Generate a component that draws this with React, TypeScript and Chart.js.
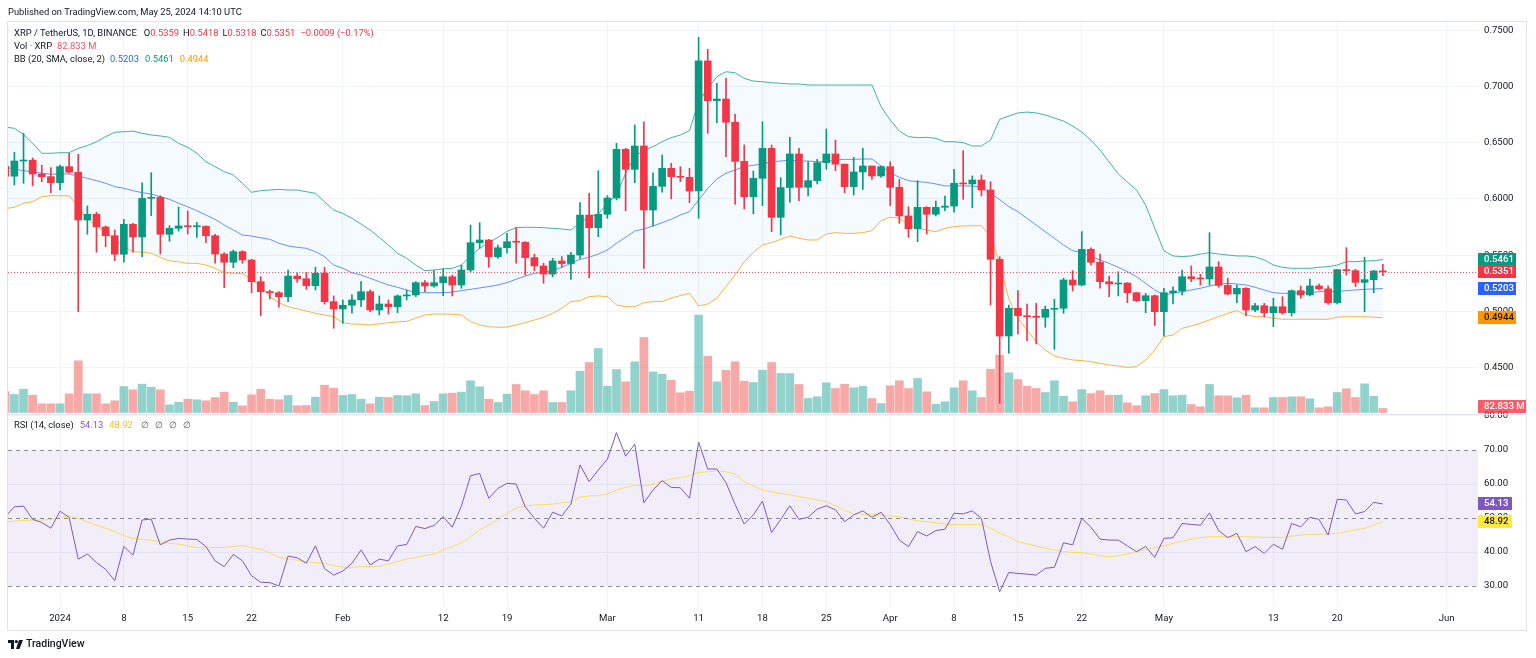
import React, { useEffect, useRef } from "react";
import { Chart, registerables } from "chart.js";

Chart.register(...registerables);

// ---------------- DATA ----------------
// daily candles, first = 2023-12-26, last = 2024-05-25
const firstDate = "2023-12-26";

const opens = [
  0.6290,0.6203,0.6338,0.6345,0.6222,0.6199,0.6145,0.6288,0.6238,0.5813,
  0.5864,0.5751,0.5673,0.5508,0.5775,0.5662,0.6006,0.6015,0.5686,0.5739,
  0.5760,0.5753,0.5757,0.5673,0.5510,0.5437,0.5531,0.5457,0.5264,0.5175,
  0.5166,0.5130,0.5314,0.5290,0.5228,0.5339,0.5086,0.5021,0.5054,0.5101,
  0.5175,0.5012,0.5065,0.5041,0.5137,0.5146,0.5255,0.5226,0.5255,0.5308,
  0.5234,0.5368,0.5611,0.5635,0.5486,0.5566,0.5620,0.5615,0.5478,0.5404,
  0.5332,0.5448,0.5425,0.5501,0.5857,0.5744,0.5864,0.6009,0.6442,0.6264,
  0.6472,0.5902,0.6113,0.6273,0.6199,0.6193,0.6071,0.7229,0.6875,0.6890,
  0.6683,0.6335,0.6020,0.6184,0.6451,0.5837,0.6102,0.6401,0.6104,0.6163,
  0.6323,0.6401,0.6310,0.6110,0.6241,0.6294,0.6205,0.6288,0.6104,0.5849,
  0.5735,0.5926,0.5864,0.5926,0.5937,0.6140,0.6134,0.6169,0.6080,0.5463,
  0.4780,0.5027,0.4961,0.4952,0.4947,0.5018,0.5027,0.5279,0.5234,0.5552,
  0.5436,0.5264,0.5243,0.5252,0.5166,0.5095,0.5139,0.4997,0.5166,0.5181,
  0.5308,0.5290,0.5288,0.5395,0.5231,0.5154,0.5205,0.5012,0.5050,0.4988,
  0.5041,0.4988,0.5184,0.5146,0.5226,0.5200,0.5077,0.5371,0.5362,0.5258,
  0.5282,0.5359,
];
const highs = [
  0.6330,0.6416,0.6585,0.6365,0.6300,0.6279,0.6303,0.6407,0.6398,0.5938,
  0.5882,0.5760,0.5724,0.5819,0.5784,0.6145,0.6234,0.6029,0.5762,0.5929,
  0.5893,0.5793,0.5762,0.5686,0.5522,0.5546,0.5540,0.5463,0.5308,0.5190,
  0.5175,0.5368,0.5339,0.5344,0.5392,0.5392,0.5137,0.5101,0.5146,0.5264,
  0.5190,0.5137,0.5101,0.5146,0.5190,0.5264,0.5273,0.5362,0.5377,0.5323,
  0.5412,0.5768,0.5789,0.5641,0.5590,0.5695,0.5745,0.5620,0.5508,0.5428,
  0.5472,0.5488,0.5525,0.5967,0.6051,0.6252,0.6030,0.6496,0.6451,0.6659,
  0.6688,0.6234,0.6392,0.6318,0.6288,0.6274,0.7439,0.7333,0.7030,0.7074,
  0.6754,0.6481,0.6249,0.6688,0.6481,0.6190,0.6549,0.6451,0.6332,0.6353,
  0.6623,0.6525,0.6312,0.6371,0.6451,0.6294,0.6294,0.6332,0.6175,0.5931,
  0.6163,0.5931,0.5982,0.6027,0.6264,0.6430,0.6205,0.6214,0.6154,0.5486,
  0.5056,0.5184,0.5065,0.5071,0.5047,0.5107,0.5294,0.5362,0.5709,0.5566,
  0.5510,0.5314,0.5353,0.5255,0.5166,0.5160,0.5146,0.5205,0.5219,0.5368,
  0.5404,0.5330,0.5700,0.5442,0.5294,0.5234,0.5211,0.5071,0.5071,0.5116,
  0.5130,0.5190,0.5226,0.5288,0.5243,0.5226,0.5374,0.5567,0.5374,0.5481,
  0.5365,0.5418,
];
const lows = [
  0.6150,0.6125,0.6140,0.6116,0.6154,0.6056,0.6080,0.6229,0.4997,0.5686,
  0.5526,0.5575,0.5451,0.5437,0.5526,0.5486,0.5851,0.5510,0.5623,0.5715,
  0.5688,0.5659,0.5611,0.5428,0.5210,0.5388,0.5428,0.5166,0.4961,0.5110,
  0.5036,0.5086,0.5258,0.5196,0.5190,0.5065,0.4849,0.4893,0.4983,0.5041,
  0.4997,0.4967,0.4976,0.4988,0.5101,0.5131,0.5175,0.5214,0.5139,0.5137,
  0.5205,0.5353,0.5561,0.5392,0.5472,0.5517,0.5428,0.5323,0.5362,0.5250,
  0.5308,0.5392,0.5285,0.5472,0.5300,0.5664,0.5828,0.5991,0.5896,0.6145,
  0.5383,0.5760,0.6060,0.6000,0.6154,0.5967,0.5828,0.6585,0.6679,0.6377,
  0.5955,0.5911,0.5867,0.5940,0.5709,0.5680,0.5971,0.5985,0.6027,0.6134,
  0.6264,0.6252,0.6056,0.6036,0.6086,0.6175,0.6193,0.5940,0.5783,0.5659,
  0.5620,0.5688,0.5849,0.5896,0.5882,0.5997,0.5922,0.6027,0.5056,0.4181,
  0.4626,0.4798,0.4738,0.4709,0.4858,0.4662,0.4983,0.5181,0.5226,0.5412,
  0.5205,0.5130,0.5137,0.5077,0.5086,0.4988,0.4872,0.4780,0.5065,0.5146,
  0.5264,0.5234,0.5234,0.5214,0.5146,0.5077,0.4961,0.4997,0.4952,0.4863,
  0.4974,0.4958,0.5116,0.5137,0.5190,0.5062,0.5065,0.5323,0.5220,0.4997,
  0.5166,0.5318,
];
const closes = [
  0.6203,0.6338,0.6345,0.6222,0.6199,0.6145,0.6288,0.6238,0.5813,0.5864,
  0.5751,0.5673,0.5508,0.5775,0.5662,0.6006,0.6015,0.5686,0.5739,0.5760,
  0.5753,0.5757,0.5673,0.5510,0.5437,0.5531,0.5457,0.5264,0.5175,0.5166,
  0.5130,0.5314,0.5290,0.5228,0.5339,0.5086,0.5021,0.5054,0.5101,0.5175,
  0.5012,0.5065,0.5041,0.5137,0.5146,0.5255,0.5226,0.5255,0.5308,0.5234,
  0.5368,0.5611,0.5635,0.5486,0.5566,0.5620,0.5615,0.5478,0.5404,0.5332,
  0.5448,0.5425,0.5501,0.5857,0.5744,0.5864,0.6009,0.6442,0.6264,0.6472,
  0.5902,0.6113,0.6273,0.6199,0.6193,0.6071,0.7229,0.6875,0.6890,0.6683,
  0.6335,0.6020,0.6184,0.6451,0.5837,0.6102,0.6401,0.6104,0.6163,0.6323,
  0.6401,0.6310,0.6110,0.6241,0.6294,0.6205,0.6288,0.6104,0.5849,0.5735,
  0.5926,0.5864,0.5926,0.5937,0.6140,0.6134,0.6169,0.6080,0.5463,0.4780,
  0.5027,0.4961,0.4952,0.4947,0.5018,0.5027,0.5279,0.5234,0.5552,0.5436,
  0.5264,0.5243,0.5252,0.5166,0.5095,0.5139,0.4997,0.5166,0.5181,0.5308,
  0.5290,0.5288,0.5395,0.5231,0.5154,0.5205,0.5012,0.5050,0.4988,0.5041,
  0.4988,0.5184,0.5146,0.5226,0.5200,0.5077,0.5371,0.5362,0.5258,0.5282,
  0.5359,0.5351,
];
// volume, millions XRP
const volumes = [
  435,373,482,358,180,180,180,387,1070,387,
  387,180,242,538,470,586,524,470,159,213,
  275,263,242,311,420,213,139,366,482,275,
  263,352,139,145,317,565,503,352,373,275,
  180,317,311,352,346,387,145,228,387,400,
  420,656,532,275,207,379,580,449,373,449,
  207,207,449,855,1035,1325,544,890,635,1049,
  1553,842,793,669,408,441,2014,1165,635,876,
  1049,648,621,876,1035,807,807,580,290,325,
  615,497,586,511,544,290,186,553,656,497,
  704,428,172,221,511,656,449,311,896,1186,
  822,683,544,497,414,656,337,221,476,393,
  449,358,358,201,139,346,393,476,346,358,
  166,118,580,346,346,304,358,97,97,311,
  311,325,325,284,97,118,414,491,311,594,
  337,82.833,
];
const bbUpper = [
  0.6641,0.6629,0.6576,0.6496,0.6407,0.6407,0.6412,0.6412,0.6451,0.6475,
  0.6510,0.6555,0.6594,0.6599,0.6605,0.6585,0.6570,0.6561,0.6549,0.6496,
  0.6460,0.6407,0.6332,0.6288,0.6243,0.6214,0.6140,0.6060,0.6074,0.6080,
  0.6086,0.6080,0.6080,0.6065,0.6051,0.5976,0.5902,0.5872,0.5828,0.5777,
  0.5724,0.5659,0.5590,0.5517,0.5472,0.5412,0.5362,0.5368,0.5379,0.5383,
  0.5412,0.5493,0.5561,0.5611,0.5659,0.5712,0.5745,0.5748,0.5748,0.5745,
  0.5739,0.5733,0.5724,0.5789,0.5842,0.5866,0.5962,0.6036,0.6229,0.6383,
  0.6430,0.6466,0.6510,0.6546,0.6570,0.6608,0.6866,0.6985,0.7089,0.7133,
  0.7124,0.7074,0.7050,0.7044,0.7035,0.7030,0.7024,0.7024,0.7015,0.7015,
  0.7015,0.7015,0.7015,0.7015,0.7015,0.7015,0.6822,0.6703,0.6605,0.6555,
  0.6546,0.6549,0.6540,0.6510,0.6510,0.6501,0.6472,0.6472,0.6525,0.6709,
  0.6739,0.6766,0.6774,0.6766,0.6748,0.6721,0.6694,0.6650,0.6596,0.6525,
  0.6436,0.6329,0.6223,0.6151,0.6080,0.5947,0.5739,0.5540,0.5493,0.5487,
  0.5493,0.5510,0.5522,0.5510,0.5501,0.5493,0.5493,0.5485,0.5457,0.5412,
  0.5392,0.5383,0.5383,0.5383,0.5392,0.5398,0.5412,0.5442,0.5442,0.5448,
  0.5451,0.5461,
];
const bbBasis = [
  0.6282,0.6267,0.6252,0.6243,0.6229,0.6220,0.6223,0.6223,0.6205,0.6184,
  0.6163,0.6140,0.6110,0.6095,0.6074,0.6056,0.6044,0.6020,0.5997,0.5962,
  0.5931,0.5896,0.5857,0.5819,0.5768,0.5724,0.5679,0.5670,0.5655,0.5641,
  0.5606,0.5582,0.5570,0.5561,0.5531,0.5487,0.5412,0.5383,0.5344,0.5323,
  0.5294,0.5264,0.5234,0.5214,0.5190,0.5166,0.5166,0.5166,0.5166,0.5172,
  0.5184,0.5196,0.5208,0.5220,0.5234,0.5256,0.5285,0.5314,0.5338,0.5347,
  0.5362,0.5392,0.5427,0.5463,0.5481,0.5510,0.5546,0.5606,0.5659,0.5715,
  0.5733,0.5760,0.5789,0.5819,0.5857,0.5887,0.5991,0.6095,0.6178,0.6229,
  0.6258,0.6288,0.6300,0.6312,0.6332,0.6338,0.6347,0.6338,0.6338,0.6332,
  0.6332,0.6347,0.6353,0.6353,0.6356,0.6356,0.6294,0.6234,0.6193,0.6163,
  0.6154,0.6148,0.6134,0.6116,0.6119,0.6116,0.6116,0.6104,0.6051,0.5995,
  0.5932,0.5887,0.5828,0.5768,0.5709,0.5650,0.5590,0.5540,0.5522,0.5487,
  0.5457,0.5427,0.5392,0.5353,0.5308,0.5249,0.5190,0.5145,0.5160,0.5175,
  0.5190,0.5205,0.5225,0.5243,0.5249,0.5243,0.5234,0.5214,0.5190,0.5166,
  0.5160,0.5160,0.5166,0.5166,0.5175,0.5175,0.5175,0.5184,0.5190,0.5196,
  0.5199,0.5203,
];
const bbLower = [
  0.5915,0.5926,0.5962,0.5976,0.6020,0.6029,0.6029,0.6027,0.5931,0.5828,
  0.5760,0.5709,0.5635,0.5575,0.5531,0.5526,0.5517,0.5481,0.5448,0.5442,
  0.5427,0.5427,0.5412,0.5383,0.5344,0.5338,0.5338,0.5280,0.5225,0.5130,
  0.5077,0.5041,0.5021,0.5003,0.4982,0.4967,0.4952,0.4899,0.4887,0.4884,
  0.4878,0.4887,0.4899,0.4905,0.4911,0.4938,0.4967,0.4976,0.4976,0.4973,
  0.4967,0.4908,0.4878,0.4863,0.4858,0.4860,0.4878,0.4899,0.4923,0.4947,
  0.4982,0.5027,0.5086,0.5095,0.5130,0.5137,0.5130,0.5056,0.5041,0.5041,
  0.5077,0.5086,0.5086,0.5116,0.5140,0.5160,0.5047,0.5065,0.5116,0.5220,
  0.5323,0.5442,0.5524,0.5590,0.5611,0.5641,0.5671,0.5650,0.5635,0.5635,
  0.5688,0.5700,0.5694,0.5694,0.5700,0.5718,0.5807,0.5837,0.5828,0.5768,
  0.5739,0.5724,0.5709,0.5739,0.5753,0.5760,0.5762,0.5762,0.5665,0.5427,
  0.5110,0.4938,0.4834,0.4730,0.4656,0.4602,0.4582,0.4567,0.4561,0.4552,
  0.4537,0.4522,0.4513,0.4501,0.4507,0.4567,0.4656,0.4774,0.4789,0.4849,
  0.4869,0.4893,0.4923,0.4952,0.4982,0.5006,0.4967,0.4952,0.4952,0.4938,
  0.4929,0.4929,0.4929,0.4929,0.4929,0.4929,0.4947,0.4952,0.4952,0.4952,
  0.4947,0.4944,
];
const rsi = [
  50.4,53.3,53.5,49.6,48.7,47.0,52.0,50.2,37.9,39.4,
  36.9,34.9,31.6,41.6,39.1,49.4,49.7,42.1,43.5,44.0,
  43.8,43.7,41.6,37.4,35.7,39.3,37.4,33.0,31.1,31.0,
  30.0,38.8,38.3,36.7,41.8,35.1,33.2,34.4,36.7,40.6,
  36.2,37.9,37.4,41.8,42.2,47.5,46.9,47.8,50.4,47.3,
  53.5,62.4,63.1,55.8,58.7,60.2,60.0,53.3,49.9,47.0,
  51.7,50.6,54.1,65.6,60.7,64.1,67.3,75.1,68.2,71.7,
  54.5,58.2,61.0,59.0,58.9,55.8,72.3,64.4,64.4,60.4,
  54.0,48.2,50.9,55.0,45.7,49.6,53.6,49.6,50.2,52.6,
  53.6,52.4,48.9,50.9,52.1,50.2,51.7,48.1,43.5,41.6,
  46.0,44.7,46.3,46.7,51.4,51.2,52.1,49.9,37.2,28.3,
  34.0,33.7,33.5,33.2,35.2,35.5,42.7,42.1,49.9,47.3,
  43.8,43.5,43.5,41.8,40.1,41.6,38.4,44.0,44.2,48.4,
  48.1,47.9,51.5,46.3,44.2,45.5,40.1,41.6,39.6,42.3,
  40.8,48.4,47.4,50.2,49.6,45.0,55.5,55.3,51.2,51.9,
  54.6,54.13,
];
const rsiMa = [
  48.8,49.1,49.3,49.4,49.4,49.6,50.1,50.6,49.9,48.9,
  47.9,47.0,46.0,44.8,44.0,43.7,43.5,43.0,42.6,42.3,
  41.8,41.3,41.4,41.3,41.3,41.6,41.9,41.3,40.8,39.8,
  38.4,38.0,37.6,37.2,36.9,36.7,36.0,35.5,35.5,35.7,
  35.7,35.9,36.4,37.2,37.9,38.4,38.9,39.4,40.6,41.6,
  42.7,44.5,46.5,47.9,49.6,51.4,52.9,53.5,53.8,53.9,
  54.1,54.5,54.8,56.1,56.5,56.6,57.1,58.2,59.0,59.7,
  59.4,60.0,60.7,61.5,61.9,62.4,63.4,63.6,63.8,63.6,
  62.9,60.7,59.4,58.2,57.7,57.2,56.8,56.3,55.8,55.3,
  54.8,53.6,52.2,51.2,51.1,51.1,50.9,50.6,50.4,49.7,
  49.2,48.9,48.6,48.2,48.1,48.1,48.1,48.1,47.0,45.5,
  44.5,43.0,42.4,41.8,41.1,40.6,40.1,39.9,39.8,39.4,
  38.9,38.6,38.9,39.4,40.1,40.6,41.3,41.8,42.6,43.2,
  43.8,44.2,44.5,44.5,44.5,44.5,44.5,44.4,44.3,44.3,
  44.3,44.7,45.0,45.2,45.2,45.3,45.5,46.0,46.5,47.0,
  47.9,48.92,
];

// time axis ticks (days since 2024-01-01)
const tickDays = [0, 7, 14, 21, 31, 42, 49, 60, 70, 77, 84, 91, 98, 105, 112, 121, 133, 140, 152];
const tickLabels = ["2024", "8", "15", "22", "Feb", "12", "19", "Mar", "11", "18", "25", "Apr", "8", "15", "22", "May", "13", "20", "Jun"];
const priceTicks = [0.45, 0.5, 0.55, 0.6, 0.65, 0.7, 0.75];
const rsiTicks = [30, 40, 50, 60, 70, 80];
const rsiLevels = [70, 50, 30];
const rsiBand = [30, 70];

const titleText = "XRP / TetherUS, 1D, BINANCE";
const changeText = "\u22120.0009 (\u22120.17%)";
const publishedText = "Published on TradingView.com, May 25, 2024 14:10 UTC";

// ---------------- LAYOUT / STYLE ----------------
const W = 1536;
const H = 658;
const FONT = "Roboto, 'Noto Sans', sans-serif";
const UP = "#089981";
const DOWN = "#F23645";
const TEXT = "#131722";

const DAY = 86400000;
const ORIGIN = Date.parse("2024-01-01");
const START = Date.parse(firstDate);
const dates = opens.map((_, i) => new Date(START + i * DAY).toISOString().slice(0, 10));
const xs = dates.map((d) => (Date.parse(d) - ORIGIN) / DAY);
const last = opens.length - 1;

function drawTag(ctx: any, left: number, yc: number, w: number, text: string, bg: string, fg: string) {
  const h = 13;
  const top = Math.round(yc - h / 2);
  ctx.fillStyle = bg;
  ctx.fillRect(left, top, w, h);
  ctx.fillStyle = fg;
  ctx.textAlign = "left";
  ctx.textBaseline = "middle";
  ctx.fillText(text, left + 6, top + h / 2 + 0.5);
}

const overlayPlugin = {
  id: "tvOverlay",
  beforeDatasetsDraw(chart: any) {
    const { ctx, chartArea: a } = chart;
    const r = chart.scales.yRsi;
    const yTop = r.getPixelForValue(rsiBand[1]);
    const yBot = r.getPixelForValue(rsiBand[0]);
    ctx.save();
    ctx.fillStyle = "rgba(126,87,194,0.1)";
    ctx.fillRect(a.left, yTop, a.right - a.left, yBot - yTop);
    ctx.restore();
  },
  afterDatasetsDraw(chart: any) {
    const { ctx, chartArea: a } = chart;
    const r = chart.scales.yRsi;
    ctx.save();
    ctx.lineWidth = 1;
    ctx.strokeStyle = "rgba(120,123,134,0.85)";
    ctx.setLineDash([4, 4]);
    rsiLevels.forEach((v) => {
      const y = Math.round(r.getPixelForValue(v)) + 0.5;
      ctx.beginPath();
      ctx.moveTo(a.left, y);
      ctx.lineTo(a.right, y);
      ctx.stroke();
    });
    const py = Math.round(chart.scales.y.getPixelForValue(closes[last])) + 0.5;
    ctx.strokeStyle = "rgba(242,54,69,0.85)";
    ctx.setLineDash([1, 2]);
    ctx.beginPath();
    ctx.moveTo(a.left, py);
    ctx.lineTo(a.right, py);
    ctx.stroke();
    ctx.restore();
  },
  afterDraw(chart: any) {
    const { ctx, chartArea: a } = chart;
    const y = chart.scales.y;
    const r = chart.scales.yRsi;
    const v = chart.scales.yVol;
    const sepY = Math.round(y.bottom) + 0.5;
    const frameRight = 1526.5;
    ctx.save();
    ctx.strokeStyle = "#e0e3eb";
    ctx.lineWidth = 1;
    ctx.setLineDash([]);
    ctx.beginPath();
    ctx.moveTo(a.left, sepY);
    ctx.lineTo(frameRight, sepY);
    ctx.stroke();
    ctx.strokeRect(7.5, 21.5, frameRight - 7.5, 630.5 - 21.5);

    ctx.font = "500 9.6px " + FONT;
    const L = a.right;
    drawTag(ctx, L, y.getPixelForValue(bbUpper[last]), 38, bbUpper[last].toFixed(4), UP, "#ffffff");
    drawTag(ctx, L, y.getPixelForValue(closes[last]), 38, closes[last].toFixed(4), DOWN, "#ffffff");
    drawTag(ctx, L, y.getPixelForValue(bbBasis[last]), 38, bbBasis[last].toFixed(4), "#2962FF", "#ffffff");
    drawTag(ctx, L, y.getPixelForValue(bbLower[last]), 38, bbLower[last].toFixed(4), "#FF9800", TEXT);
    const vy = Math.min(v.getPixelForValue(volumes[last]), y.bottom - 7.5);
    drawTag(ctx, L, vy, 48, volumes[last].toFixed(3) + " M", "rgba(242,54,69,0.8)", "#ffffff");
    drawTag(ctx, L, r.getPixelForValue(rsi[last]), 34, rsi[last].toFixed(2), "#7E57C2", "#ffffff");
    drawTag(ctx, L, r.getPixelForValue(rsiMa[last]), 34, rsiMa[last].toFixed(2), "#FFEB3B", TEXT);
    ctx.restore();
  },
};

export default function App() {
  const ref = useRef<HTMLCanvasElement | null>(null);

  useEffect(() => {
    const canvas = ref.current;
    if (!canvas) return;
    const candleColors = opens.map((o, i) => (closes[i] >= o ? UP : DOWN));
    const volColors = opens.map((o, i) => (closes[i] >= o ? "rgba(38,166,154,0.5)" : "rgba(239,83,80,0.5)"));
    const pts = (arr: number[]) => xs.map((x, i) => ({ x, y: arr[i] }));
    const lineBase = { type: "line", pointRadius: 0, pointHoverRadius: 0, borderWidth: 1, tension: 0, fill: false };
    const tickFont = { family: FONT, size: 9.6 };

    const chart = new Chart(canvas, {
      type: "bar",
      data: {
        datasets: [
          {
            type: "bar", label: "Body", yAxisID: "y", order: 1,
            data: xs.map((x, i) => ({ x, y: [Math.min(opens[i], closes[i]), Math.max(opens[i], closes[i])] })),
            backgroundColor: candleColors, barThickness: 7, grouped: false, minBarLength: 1, borderWidth: 0,
          },
          {
            type: "bar", label: "Wick", yAxisID: "y", order: 2,
            data: xs.map((x, i) => ({ x, y: [lows[i], highs[i]] })),
            backgroundColor: candleColors, barThickness: 1, grouped: false, borderWidth: 0,
          },
          {
            ...lineBase, label: "BB upper", yAxisID: "y", order: 7, data: pts(bbUpper),
            borderColor: "rgba(8,153,129,0.75)", fill: "+1", backgroundColor: "rgba(33,150,243,0.05)",
          },
          { ...lineBase, label: "BB lower", yAxisID: "y", order: 6, data: pts(bbLower), borderColor: "rgba(255,152,0,0.75)" },
          { ...lineBase, label: "BB basis", yAxisID: "y", order: 5, data: pts(bbBasis), borderColor: "rgba(41,98,255,0.7)" },
          {
            type: "bar", label: "Volume", yAxisID: "yVol", order: 9,
            data: xs.map((x, i) => ({ x, y: volumes[i] })),
            backgroundColor: volColors, barThickness: 8, grouped: false, borderWidth: 0,
          },
          { ...lineBase, label: "RSI MA", yAxisID: "yRsi", order: 4, data: pts(rsiMa), borderColor: "rgba(250,218,70,0.85)" },
          { ...lineBase, label: "RSI", yAxisID: "yRsi", order: 3, data: pts(rsi), borderColor: "#7E57C2" },
        ],
      } as any,
      options: {
        animation: false,
        responsive: false,
        maintainAspectRatio: false,
        events: [],
        layout: { padding: { left: 8, right: 10, top: 22, bottom: 28 }, autoPadding: false },
        plugins: { legend: { display: false }, tooltip: { enabled: false } },
        scales: {
          x: {
            type: "linear", min: -5.7, max: 155.43, offset: false,
            grid: { color: "#f0f3fa", drawTicks: false, offset: false },
            border: { display: false },
            afterBuildTicks: (s: any) => { s.ticks = tickDays.map((v) => ({ value: v })); },
            afterFit: (s: any) => { s.height = 23; },
            ticks: {
              autoSkip: false, maxRotation: 0, padding: 6, color: TEXT, font: tickFont,
              callback: (_v: any, i: number) => tickLabels[i],
            },
          },
          y: {
            type: "linear", position: "right", stack: "panes", stackWeight: 392,
            min: 0.408591, max: 0.757567,
            grid: { color: "#f0f3fa", drawTicks: false },
            border: { display: false },
            afterBuildTicks: (s: any) => { s.ticks = priceTicks.map((v) => ({ value: v })); },
            afterFit: (s: any) => { s.width = 48; },
            ticks: { padding: 6, color: TEXT, font: tickFont, callback: (v: any) => Number(v).toFixed(4) },
          },
          yRsi: {
            type: "linear", axis: "y", position: "right", stack: "panes", stackWeight: 193,
            min: 23.826, max: 80.588,
            grid: {
              drawTicks: false,
              color: (c: any) => (c.tick && rsiLevels.includes(c.tick.value) ? "rgba(0,0,0,0)" : "#f0f3fa"),
            },
            border: { display: false },
            afterBuildTicks: (s: any) => { s.ticks = rsiTicks.map((v) => ({ value: v })); },
            afterFit: (s: any) => { s.width = 48; },
            ticks: { padding: 6, color: TEXT, font: tickFont, callback: (v: any) => Number(v).toFixed(2) },
          },
          yVol: {
            type: "linear", axis: "y", position: "right", display: false,
            min: -4026, max: 8083,
          },
        },
      } as any,
      plugins: [overlayPlugin],
    });
    return () => chart.destroy();
  }, []);

  const base: React.CSSProperties = {
    position: "absolute", whiteSpace: "nowrap", lineHeight: "12px", fontSize: 9.4, color: TEXT, pointerEvents: "none",
  };
  const red = { color: DOWN };
  const ohlc: [string, number][] = [["O", opens[last]], ["H", highs[last]], ["L", lows[last]], ["C", closes[last]]];

  return (
    <div style={{ position: "absolute", left: 0, top: 0, width: W, height: H, background: "#ffffff", overflow: "hidden", fontFamily: FONT }}>
      <canvas ref={ref} width={W} height={H} style={{ position: "absolute", left: 0, top: 0, width: W, height: H }} />
      <div style={{ ...base, left: 8, top: 6 }}>{publishedText}</div>
      <div style={{ ...base, left: 14, top: 27 }}>
        <span>{titleText}</span>
        {ohlc.map(([k, v], i) => (
          <span key={k} style={{ marginLeft: i === 0 ? 7 : 4 }}>
            {k}
            <span style={red}>{v.toFixed(4)}</span>
          </span>
        ))}
        <span style={{ ...red, marginLeft: 5 }}>{changeText}</span>
      </div>
      <div style={{ ...base, left: 14, top: 40 }}>
        <span>Vol · XRP</span>
        <span style={{ color: "#f7525f", marginLeft: 5 }}>{volumes[last].toFixed(3)} M</span>
      </div>
      <div style={{ ...base, left: 14, top: 53 }}>
        <span>BB (20, SMA, close, 2)</span>
        <span style={{ color: "#2962FF", marginLeft: 5 }}>{bbBasis[last].toFixed(4)}</span>
        <span style={{ color: UP, marginLeft: 6 }}>{bbUpper[last].toFixed(4)}</span>
        <span style={{ color: "#FF9800", marginLeft: 6 }}>{bbLower[last].toFixed(4)}</span>
      </div>
      <div style={{ ...base, left: 14, top: 419 }}>
        <span>RSI (14, close)</span>
        <span style={{ color: "#7E57C2", marginLeft: 6 }}>{rsi[last].toFixed(2)}</span>
        <span style={{ color: "#F5C518", marginLeft: 6 }}>{rsiMa[last].toFixed(2)}</span>
        {[0, 1, 2, 3].map((i) => (
          <span key={i} style={{ color: "#50535e", marginLeft: i === 0 ? 8 : 6 }}>∅</span>
        ))}
      </div>
      <div style={{ position: "absolute", left: 8, top: 638, display: "flex", alignItems: "center", pointerEvents: "none" }}>
        <svg width="15" height="9" viewBox="0 0 15 9">
          <path d="M0 0 H6 V9 H3 V3 H0 Z" fill={TEXT} />
          <circle cx="8.3" cy="1.6" r="1.6" fill={TEXT} />
          <path d="M11 0 H15 L11.5 9 H8 Z" fill={TEXT} />
        </svg>
        <span style={{ marginLeft: 3, fontSize: 10.5, fontWeight: 500, color: TEXT, lineHeight: "12px" }}>TradingView</span>
      </div>
    </div>
  );
}
